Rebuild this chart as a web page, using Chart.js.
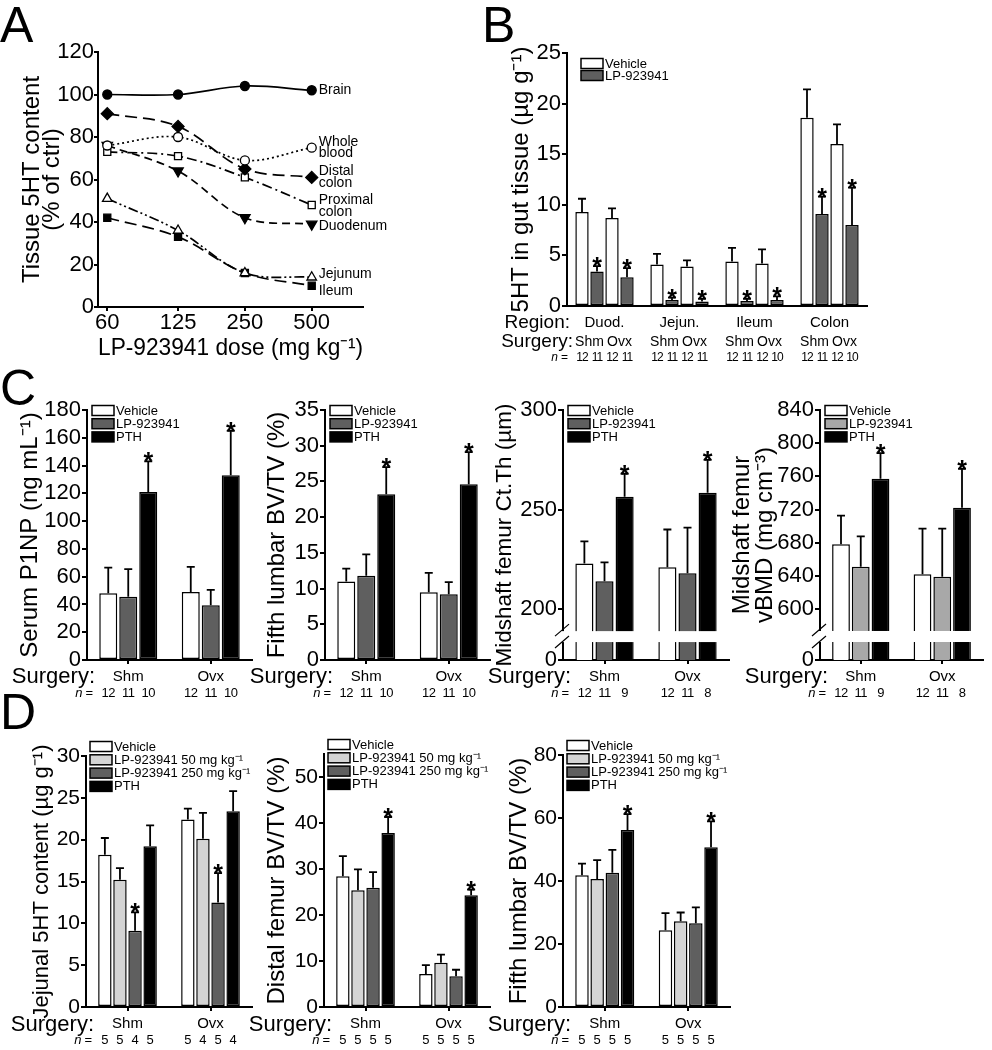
<!DOCTYPE html>
<html>
<head>
<meta charset="utf-8">
<title>LP-923941 figure</title>
<script src="https://cdn.jsdelivr.net/npm/chart.js@4.4.1/dist/chart.umd.min.js"></script>
<style>
  body { margin: 0; background: #fff; }
  #fig { position: relative; width: 992px; height: 1050px; overflow: hidden; font-family: "Liberation Sans", Arial, sans-serif; }
  #fig canvas { position: absolute; }
  .tag { position: absolute; font-size: 50px; line-height: 50px; color: #000; }
</style>
</head>
<body>
<div id="fig">
  <canvas id="chartA" width="420" height="365" style="left:0;top:0"></canvas>
  <canvas id="chartB" width="500" height="370" style="left:480px;top:0"></canvas>
  <canvas id="chartC1" width="260" height="320" style="left:0;top:380px"></canvas>
  <canvas id="chartC2" width="250" height="320" style="left:250px;top:380px"></canvas>
  <canvas id="chartC3" width="250" height="320" style="left:488px;top:380px"></canvas>
  <canvas id="chartC4" width="267" height="320" style="left:725px;top:380px"></canvas>
  <canvas id="chartD1" width="260" height="335" style="left:0;top:715px"></canvas>
  <canvas id="chartD2" width="250" height="335" style="left:250px;top:715px"></canvas>
  <canvas id="chartD3" width="250" height="335" style="left:488px;top:715px"></canvas>
  <div class="tag" style="left:0;top:0">A</div>
  <div class="tag" style="left:482px;top:0">B</div>
  <div class="tag" style="left:0;top:363px">C</div>
  <div class="tag" style="left:0;top:687px">D</div>
</div>
<script>
// ---------- A: tissue 5HT vs dose
var doses = [60, 125, 250, 500];
var brainA = [100, 100, 104, 102];
var wholeBloodA = [76, 80, 69, 75];
var distalColonA = [91, 85, 65, 61];
var proximalColonA = [73, 71, 61, 48];
var duodenumA = [76, 64, 42, 39];
var jejunumA = [51, 36, 16, 14];
var ileumA = [42, 33, 16, 10];

// ---------- B: 5HT in gut tissue
var regionsB = ['Duod.', 'Jejun.', 'Ileum', 'Colon'];
var shmVehB = [9.3, 4.1, 4.4, 18.6];
var shmVehErrB = [1.3, 1.05, 1.35, 2.8];
var shmLpB = [3.4, 0.6, 0.5, 9.1];
var shmLpErrB = [0.55, 0.22, 0.2, 1.7];
var ovxVehB = [8.7, 3.9, 4.2, 16.0];
var ovxVehErrB = [0.95, 0.6, 1.4, 1.95];
var ovxLpB = [2.85, 0.45, 0.6, 8.0];
var ovxLpErrB = [0.9, 0.25, 0.35, 3.7];
var nShmVehB = [12, 12, 12, 12];
var nShmLpB = [11, 11, 11, 11];
var nOvxVehB = [12, 12, 12, 12];
var nOvxLpB = [11, 11, 10, 10];
var sigVehB = [0, 0, 0, 0];
var sigLpB = [1, 1, 1, 1];

// ---------- C: bone, vehicle / LP-923941 / PTH
var surgery = ['Shm', 'Ovx'];
var p1npVeh = [48, 49], p1npVehErr = [18.5, 18];
var p1npLp = [45.5, 39.5], p1npLpErr = [20, 11];
var p1npPth = [121, 133], p1npPthErr = [22, 32];
var l5Veh = [11.0, 9.5], l5VehErr = [1.8, 2.7];
var l5Lp = [11.8, 9.2], l5LpErr = [3.0, 1.7];
var l5Pth = [23.2, 24.6], l5PthErr = [3.8, 4.5];
var ctVeh = [223, 221], ctVehErr = [11, 19];
var ctLp = [214, 218], ctLpErr = [9.5, 23];
var ctPth = [256.5, 258.5], ctPthErr = [11.5, 16.5];
var bmdVeh = [678, 642], bmdVehErr = [34.5, 55];
var bmdLp = [651, 639], bmdLpErr = [36.5, 58];
var bmdPth = [757, 722], bmdPthErr = [31, 47];
var ctTicks = [200, 250, 300];
var bmdTicks = [600, 640, 680, 720, 760, 800, 840];
var nVehC = [12, 12], nLpC = [11, 11], nPthC12 = [10, 10], nPthC34 = [9, 8];
var sigNone = [0, 0], sigBoth = [1, 1];

// ---------- D: vehicle / LP 50 / LP 250 / PTH
var jejVeh = [18.2, 22.4], jejVehErr = [2.0, 1.3];
var jej50 = [15.2, 20.1], jej50Err = [1.4, 3.1];
var jej250 = [9.1, 12.5], jej250Err = [2.2, 3.5];
var jejPth = [19.2, 23.4], jejPthErr = [2.5, 2.4];
var dfVeh = [28.4, 7.2], dfVehErr = [4.4, 1.9];
var df50 = [25.4, 9.6], df50Err = [4.5, 1.8];
var df250 = [25.9, 6.7], df250Err = [3.4, 1.4];
var dfPth = [37.8, 24.3], dfPthErr = [3.5, 1.2];
var lvVeh = [41.8, 24.4], lvVehErr = [3.7, 5.4];
var lv50 = [40.6, 27.2], lv50Err = [6.0, 2.8];
var lv250 = [42.6, 26.6], lv250Err = [7.3, 5.0];
var lvPth = [56.2, 50.7], lvPthErr = [5.0, 8.2];
var nVehD1 = [5, 5], n50D1 = [5, 4], n250D1 = [4, 5], nPthD1 = [5, 4];
var nAllD = [5, 5];

var WHITE = '#ffffff', DARK = '#5f5f5f', LIGHT = '#d4d4d4', MID = '#a8a8a8', BLACK = '#000000';
var SANS = '"Liberation Sans", Arial, sans-serif';

Chart.defaults.color = '#000';
Chart.defaults.font.family = SANS;

// per-chart drawing settings, looked up by canvas id
var extras = {};

var axisBreak = {
  id: 'axisBreak',
  afterDatasetsDraw: function (chart) {
    var o = extras[chart.canvas.id];
    if (!o || !o.brk) return;
    var ctx = chart.ctx, a = chart.chartArea, y = chart.scales.y;
    var p1 = y.getPixelForValue(o.brk[1]), p2 = y.getPixelForValue(o.brk[0]);
    ctx.save();
    ctx.fillStyle = '#fff';
    ctx.fillRect(a.left - 3, p1, a.right - a.left + 3, p2 - p1);
    ctx.strokeStyle = '#000'; ctx.lineWidth = 1.2;
    ctx.beginPath();
    ctx.moveTo(a.left - 8, p1 + 5); ctx.lineTo(a.left + 6, p1 - 7);
    ctx.moveTo(a.left - 8, p2 + 6); ctx.lineTo(a.left + 6, p2 - 6);
    ctx.stroke();
    ctx.restore();
  }
};

var errorBars = {
  id: 'errorBars',
  afterDatasetsDraw: function (chart) {
    var ctx = chart.ctx, ys = chart.scales.y;
    ctx.save();
    ctx.strokeStyle = '#000'; ctx.fillStyle = '#000'; ctx.lineWidth = 1.8;
    ctx.font = 'bold 25px ' + SANS; ctx.textAlign = 'center'; ctx.textBaseline = 'alphabetic';
    chart.data.datasets.forEach(function (ds, di) {
      if (!ds.err) return;
      chart.getDatasetMeta(di).data.forEach(function (bar, i) {
        var top = ys.getPixelForValue(ds.data[i] + ds.err[i]);
        ctx.beginPath();
        ctx.moveTo(bar.x, bar.y); ctx.lineTo(bar.x, top);
        ctx.moveTo(bar.x - 4, top); ctx.lineTo(bar.x + 4, top);
        ctx.stroke();
        if (ds.sig && ds.sig[i]) ctx.fillText('*', bar.x, top + 9);
      });
    });
    ctx.restore();
  }
};

var boxLegend = {
  id: 'boxLegend',
  afterDraw: function (chart) {
    var o = extras[chart.canvas.id];
    if (!o || !o.legend) return;
    var L = o.legend, ctx = chart.ctx, a = chart.chartArea;
    ctx.save();
    ctx.font = '13px ' + SANS; ctx.textBaseline = 'middle'; ctx.textAlign = 'left';
    L.items.forEach(function (di, k) {
      var ds = chart.data.datasets[di];
      var x = a.left + L.dx, y = a.top + L.dy + k * L.step;
      ctx.fillStyle = ds.backgroundColor;
      ctx.fillRect(x, y - 5, 22, 10);
      ctx.strokeStyle = '#000'; ctx.lineWidth = 1.5;
      ctx.strokeRect(x, y - 5, 22, 10);
      ctx.fillStyle = '#000';
      ctx.fillText(ds.label, x + 24, y + 0.5);
    });
    ctx.restore();
  }
};

var underAxis = {
  id: 'underAxis',
  afterDraw: function (chart) {
    var o = extras[chart.canvas.id];
    if (!o || !o.under) return;
    var U = o.under, ctx = chart.ctx, a = chart.chartArea;
    var nFont = (U.nSize || 13) + 'px ' + SANS;
    ctx.save();
    ctx.fillStyle = '#000'; ctx.textBaseline = 'middle'; ctx.textAlign = 'right';
    U.heads.forEach(function (h) {
      ctx.font = h.size + 'px ' + SANS;
      ctx.fillText(h.text, a.left + h.dx, a.bottom + h.dy);
    });
    var ny = a.bottom + U.nDy;
    ctx.font = nFont;
    ctx.fillText('=', a.left + U.nDx, ny);
    var w = ctx.measureText('=').width;
    ctx.font = 'italic ' + nFont;
    ctx.fillText('n', a.left + U.nDx - w - 3, ny);
    ctx.textAlign = 'center';
    ctx.font = nFont;
    if (U.tight) ctx.letterSpacing = U.tight;
    chart.data.datasets.forEach(function (ds, di) {
      chart.getDatasetMeta(di).data.forEach(function (bar, i) {
        ctx.fillText(String(ds.n[i]), bar.x, ny);
      });
    });
    ctx.letterSpacing = '0px';
    if (U.pairs) {
      ctx.font = '14px ' + SANS;
      U.pairs.forEach(function (p) {
        var m0 = chart.getDatasetMeta(p[0]).data, m1 = chart.getDatasetMeta(p[1]).data;
        m0.forEach(function (b, i) {
          ctx.fillText(p[2], (b.x + m1[i].x) / 2, a.bottom + U.pairDy);
        });
      });
    }
    ctx.restore();
  }
};

var endLabels = {
  id: 'endLabels',
  afterDatasetsDraw: function (chart) {
    var o = extras[chart.canvas.id];
    if (!o || !o.nudge) return;
    var ctx = chart.ctx;
    ctx.save();
    ctx.fillStyle = '#000'; ctx.font = '14px ' + SANS;
    ctx.textAlign = 'left'; ctx.textBaseline = 'middle';
    chart.data.datasets.forEach(function (ds, di) {
      var pts = chart.getDatasetMeta(di).data, pt = pts[pts.length - 1];
      var lines = ds.label.split(' ');
      var y0 = pt.y + o.nudge[di] - (lines.length - 1) * 11.5 / 2;
      lines.forEach(function (t, k) { ctx.fillText(t, pt.x + 7, y0 + k * 11.5); });
    });
    ctx.restore();
  }
};

function bars(label, data, err, color, n, sig) {
  return { label: label, data: data, err: err, backgroundColor: color, n: n, sig: sig };
}

function barChart(id, labels, datasets, o) {
  extras[id] = o;
  var marks = o.xMarks !== false;
  var yOpts = {
    min: o.min, max: o.max,
    border: { color: '#000', width: 2 },
    grid: { drawOnChartArea: false, color: '#000', lineWidth: 2, tickLength: 5 },
    ticks: { font: { size: o.tickSize || 22 }, padding: 1, stepSize: o.step, includeBounds: false, autoSkip: false },
    title: { display: true, text: o.title, font: { size: o.titleSize || 24, lineHeight: o.titleLH || 1 }, padding: { top: o.titlePad, bottom: 0 } },
    afterFit: function (s) { s.width = o.yW; }
  };
  if (o.breakTicks) {
    yOpts.afterBuildTicks = function (s) {
      s.ticks = [o.min].concat(o.breakTicks).map(function (v) { return { value: v }; });
    };
    yOpts.ticks.callback = function (v) { return v === o.min ? '0' : v; };
  }
  return new Chart(document.getElementById(id), {
    type: 'bar',
    data: { labels: labels, datasets: datasets },
    options: {
      responsive: false,
      animation: false,
      events: [],
      layout: { padding: { top: o.padTop, right: o.padRight, left: 0, bottom: 0 }, autoPadding: false },
      datasets: { bar: { categoryPercentage: o.catPct, barPercentage: o.barPct, borderColor: '#000', borderWidth: 1.5, borderSkipped: false } },
      scales: {
        x: {
          offset: true,
          border: { color: '#000', width: 2 },
          grid: { offset: false, drawOnChartArea: false, drawTicks: marks, color: '#000', lineWidth: 2, tickLength: 4 },
          ticks: { font: { size: 15, lineHeight: 1.2 }, padding: marks ? 4 : 8, maxRotation: 0, autoSkip: false },
          afterFit: function (s) { s.height = o.xH; }
        },
        y: yOpts
      },
      plugins: { legend: { display: false }, tooltip: { enabled: false } }
    },
    plugins: [axisBreak, errorBars, boxLegend, underAxis]
  });
}

// ---------- A
extras.chartA = { nudge: [0, 0, 0, 1, 2, -3, 5] };
function lineSet(label, data, dash, style, fill, radius, rot) {
  return {
    label: label, data: data, borderColor: '#000', borderWidth: 1.7, borderDash: dash,
    pointStyle: style, pointRadius: radius, pointRotation: rot || 0,
    pointBackgroundColor: fill, pointBorderColor: '#000', pointBorderWidth: 1.3,
    tension: 0.35, fill: false
  };
}
new Chart(document.getElementById('chartA'), {
  type: 'line',
  data: {
    labels: doses,
    datasets: [
      lineSet('Brain', brainA, [], 'circle', BLACK, 4.5),
      lineSet('Whole blood', wholeBloodA, [2, 3], 'circle', WHITE, 4.5),
      lineSet('Distal colon', distalColonA, [12, 6], 'rectRot', BLACK, 6),
      lineSet('Proximal colon', proximalColonA, [10, 4, 2, 4], 'rect', WHITE, 5),
      lineSet('Duodenum', duodenumA, [8, 5], 'triangle', BLACK, 6, 180),
      lineSet('Jejunum', jejunumA, [10, 3, 2, 3, 2, 3], 'triangle', WHITE, 5.5),
      lineSet('Ileum', ileumA, [12, 6], 'rect', BLACK, 5)
    ]
  },
  options: {
    responsive: false, animation: false, events: [],
    layout: { padding: { top: 52, right: 57, left: 0, bottom: 0 }, autoPadding: false },
    scales: {
      x: {
        type: 'logarithmic', min: 54.5, max: 851,
        border: { color: '#000', width: 2 },
        grid: { drawOnChartArea: false, color: '#000', lineWidth: 2, tickLength: 4 },
        afterBuildTicks: function (s) { s.ticks = doses.map(function (v) { return { value: v }; }); },
        ticks: { font: { size: 22, lineHeight: 1 }, padding: 1, maxRotation: 0, autoSkip: false, callback: function (v) { return String(v); } },
        title: { display: true, text: 'LP-923941 dose (mg kg⁻¹)', font: { size: 24, lineHeight: 1 }, padding: { top: 0, bottom: 5 } },
        afterFit: function (s) { s.height = 58; }
      },
      y: {
        min: 0, max: 120,
        border: { color: '#000', width: 2 },
        grid: { drawOnChartArea: false, color: '#000', lineWidth: 2, tickLength: 4 },
        ticks: { stepSize: 20, font: { size: 22 }, padding: 0, autoSkip: false },
        title: { display: true, text: ['Tissue 5HT content', '(% of ctrl)'], font: { size: 24, lineHeight: 0.85 }, padding: { top: 22, bottom: 0 } },
        afterFit: function (s) { s.width = 98; }
      }
    },
    plugins: { legend: { display: false }, tooltip: { enabled: false } }
  },
  plugins: [endLabels]
});

// ---------- B
barChart('chartB', regionsB, [
  bars('Vehicle', shmVehB, shmVehErrB, WHITE, nShmVehB, sigVehB),
  bars('LP-923941', shmLpB, shmLpErrB, DARK, nShmLpB, sigLpB),
  bars('Vehicle', ovxVehB, ovxVehErrB, WHITE, nOvxVehB, sigVehB),
  bars('LP-923941', ovxLpB, ovxLpErrB, DARK, nOvxLpB, sigLpB)
], {
  min: 0, max: 25, step: 5, tickSize: 22, title: '5HT in gut tissue (µg g⁻¹)', titlePad: 29,
  yW: 87, xH: 64, padTop: 53, padRight: 113, catPct: 0.8, barPct: 0.89, xMarks: false,
  legend: { items: [0, 1], dx: 14, dy: 10.5, step: 12 },
  under: { heads: [{ text: 'Region:', size: 19, dx: 3, dy: 17 }, { text: 'Surgery:', size: 19, dx: 6, dy: 36 }],
           nDx: 1, nDy: 52, nSize: 12, tight: '-1px', pairs: [[0, 1, 'Shm'], [2, 3, 'Ovx']], pairDy: 36 }
});

// ---------- C
var legend3 = { items: [0, 1, 2], dx: 5, dy: 0.5, step: 13.2 };
var underC = { heads: [{ text: 'Surgery:', size: 22, dx: 8, dy: 17 }], nDx: 6, nDy: 33, nSize: 13, tight: '-0.5px' };

barChart('chartC1', surgery, [
  bars('Vehicle', p1npVeh, p1npVehErr, WHITE, nVehC, sigNone),
  bars('LP-923941', p1npLp, p1npLpErr, DARK, nLpC, sigNone),
  bars('PTH', p1npPth, p1npPthErr, BLACK, nPthC12, sigBoth)
], { min: 0, max: 180, step: 20, title: 'Serum P1NP (ng mL⁻¹)', titlePad: 18.5, yW: 87, xH: 40, padTop: 30, padRight: 8,
     catPct: 0.727, barPct: 0.9, legend: legend3, under: underC });

barChart('chartC2', surgery, [
  bars('Vehicle', l5Veh, l5VehErr, WHITE, nVehC, sigNone),
  bars('LP-923941', l5Lp, l5LpErr, DARK, nLpC, sigNone),
  bars('PTH', l5Pth, l5PthErr, BLACK, nPthC12, sigBoth)
], { min: 0, max: 35, step: 5, title: 'Fifth lumbar BV/TV (%)', titlePad: 15, yW: 75, xH: 40, padTop: 30, padRight: 10,
     catPct: 0.727, barPct: 0.9, legend: legend3, under: underC });

barChart('chartC3', surgery, [
  bars('Vehicle', ctVeh, ctVehErr, WHITE, nVehC, sigNone),
  bars('LP-923941', ctLp, ctLpErr, DARK, nLpC, sigNone),
  bars('PTH', ctPth, ctPthErr, BLACK, nPthC34, sigBoth)
], { min: 174.5, max: 300, breakTicks: ctTicks, brk: [183.5, 189], title: 'Midshaft femur Ct.Th (µm)', titleSize: 22.5, titlePad: 5.5,
     yW: 75, xH: 40, padTop: 30, padRight: 9, catPct: 0.727, barPct: 0.9, legend: legend3, under: underC });

barChart('chartC4', surgery, [
  bars('Vehicle', bmdVeh, bmdVehErr, WHITE, nVehC, sigNone),
  bars('LP-923941', bmdLp, bmdLpErr, MID, nLpC, sigNone),
  bars('PTH', bmdPth, bmdPthErr, BLACK, nPthC34, sigBoth)
], { min: 538.5, max: 840, breakTicks: bmdTicks, brk: [560.2, 573.5], title: ['Midshaft femur', 'vBMD (mg cm⁻³)'], titleLH: 0.96,
     titlePad: 5.5, yW: 95, xH: 40, padTop: 30, padRight: 9, catPct: 0.727, barPct: 0.9, legend: legend3, under: underC });

// ---------- D
var legend4 = { items: [0, 1, 2, 3], dx: 4, dy: -9.5, step: 13.3 };
var underD = { heads: [{ text: 'Surgery:', size: 22, dx: 8, dy: 18 }], nDx: 6, nDy: 33, nSize: 13 };

barChart('chartD1', surgery, [
  bars('Vehicle', jejVeh, jejVehErr, WHITE, nVehD1, sigNone),
  bars('LP-923941 50 mg kg⁻¹', jej50, jej50Err, LIGHT, n50D1, sigNone),
  bars('LP-923941 250 mg kg⁻¹', jej250, jej250Err, DARK, n250D1, sigBoth),
  bars('PTH', jejPth, jejPthErr, BLACK, nPthD1, sigNone)
], { min: 0, max: 30, step: 5, tickSize: 21, title: 'Jejunal 5HT content (µg g⁻¹)', titleSize: 22, titlePad: 31, yW: 86, xH: 43, padTop: 41, padRight: 8,
     catPct: 0.727, barPct: 0.89, legend: legend4, under: underD });

barChart('chartD2', surgery, [
  bars('Vehicle', dfVeh, dfVehErr, WHITE, nAllD, sigNone),
  bars('LP-923941 50 mg kg⁻¹', df50, df50Err, LIGHT, nAllD, sigNone),
  bars('LP-923941 250 mg kg⁻¹', df250, df250Err, DARK, nAllD, sigNone),
  bars('PTH', dfPth, dfPthErr, BLACK, nAllD, sigBoth)
], { min: 0, max: 55, step: 10, tickSize: 21, title: 'Distal femur BV/TV (%)', titlePad: 15, yW: 74, xH: 43, padTop: 39, padRight: 10,
     catPct: 0.727, barPct: 0.89, legend: legend4, under: underD });

barChart('chartD3', surgery, [
  bars('Vehicle', lvVeh, lvVehErr, WHITE, nAllD, sigNone),
  bars('LP-923941 50 mg kg⁻¹', lv50, lv50Err, LIGHT, nAllD, sigNone),
  bars('LP-923941 250 mg kg⁻¹', lv250, lv250Err, DARK, nAllD, sigNone),
  bars('PTH', lvPth, lvPthErr, BLACK, nAllD, sigBoth)
], { min: 0, max: 80, step: 20, tickSize: 21, title: 'Fifth lumbar BV/TV (%)', titlePad: 19, yW: 75, xH: 43, padTop: 40, padRight: 8,
     catPct: 0.727, barPct: 0.89, legend: legend4, under: underD });
</script>
</body>
</html>
